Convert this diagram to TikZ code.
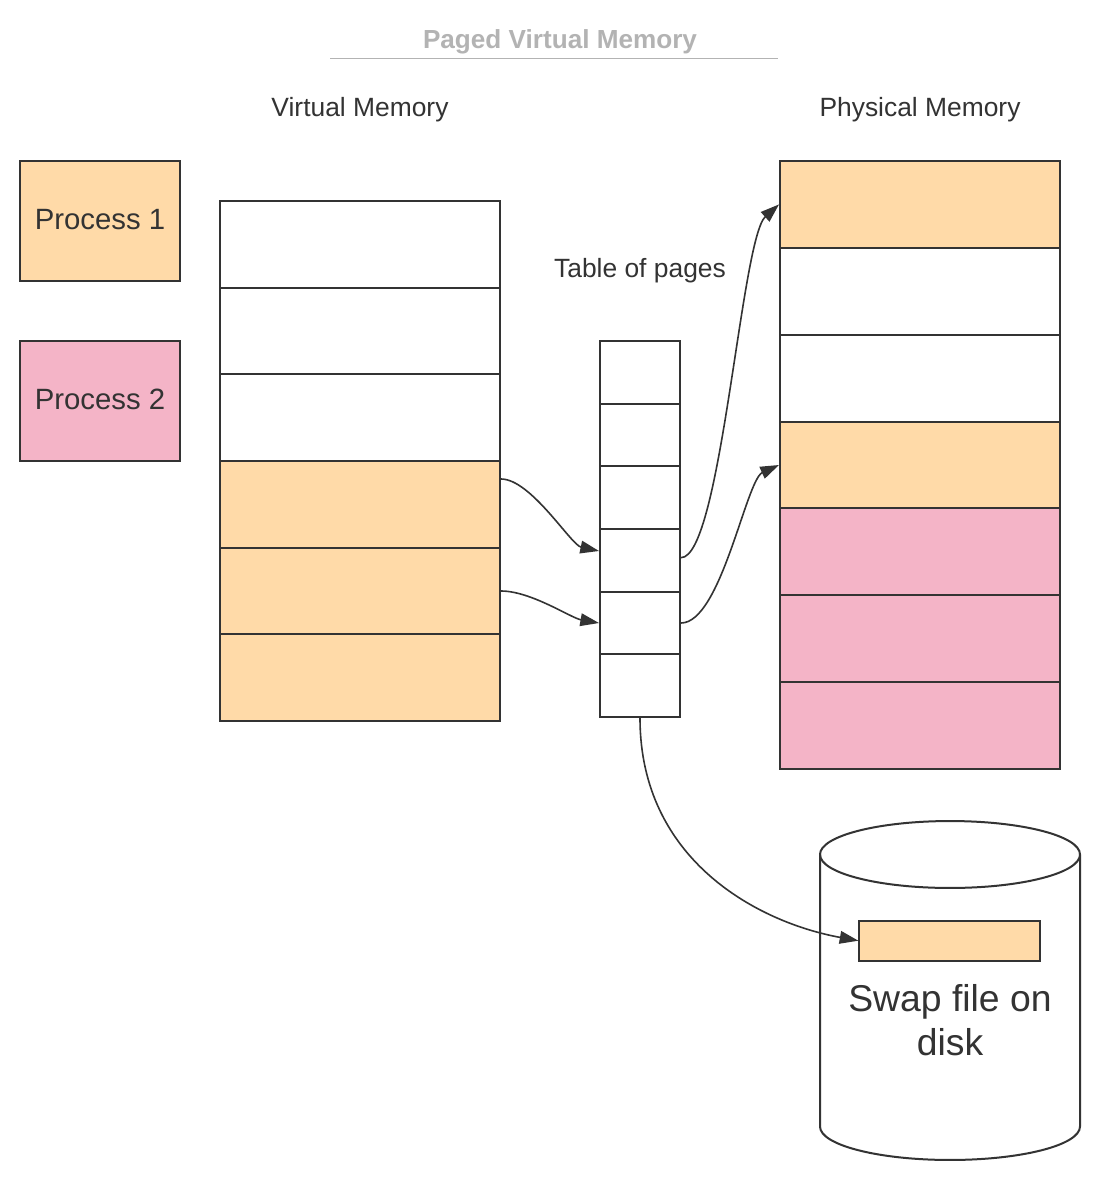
\documentclass[tikz,border=0pt]{standalone}
\usepackage{fontspec}
\setmainfont{Liberation Sans}
\usetikzlibrary{arrows.meta}
\definecolor{peach}{HTML}{FFDAA8}
\definecolor{pinkc}{HTML}{F4B4C7}
\definecolor{ink}{HTML}{333333}
\definecolor{titlegray}{HTML}{B3B3B3}
\begin{document}
\begin{tikzpicture}[x=0.75pt,y=-0.75pt,
  cell/.style={draw=ink,line width=1.5pt,inner sep=0pt,fill=white},
  vmcell/.style={cell,minimum width=210pt,minimum height=65pt},
  ptcell/.style={cell,minimum width=60pt,minimum height=47pt},
  pmcell/.style={cell,minimum width=210pt,minimum height=65.14pt},
  procbox/.style={cell,minimum width=120pt,minimum height=90pt,text=ink,font=\fontsize{22pt}{26pt}\selectfont},
  label/.style={anchor=base,text=ink,font=\fontsize{19.8pt}{23pt}\selectfont},
  conn/.style={draw=ink,line width=1.2pt,-{Triangle[length=14pt,width=9.5pt]}}]
\useasboundingbox[fill=white] (0,0) rectangle (1100,1181);

% title
\node[anchor=base,text=titlegray,font=\bfseries\fontsize{19.6pt}{23pt}\selectfont] (title) at (560,48.5) {Paged Virtual Memory};
\coordinate (tl) at (330,58.5);
\coordinate (tr) at (778,58.5);
\draw[titlegray,line width=1.1pt] (tl) -- (tr);

% labels
\node[label] (vmlabel) at (360,116.5) {Virtual Memory};
\node[label] (pmlabel) at (920,116.5) {Physical Memory};
\node[label] (ptlabel) at (640,277) {Table of pages};

% processes
\node[procbox,fill=peach] (p1) at (100,221) {\raisebox{2.5pt}{Process 1}};
\node[procbox,fill=pinkc] (p2) at (100,401) {\raisebox{2.5pt}{Process 2}};

% virtual memory
\node[vmcell] (vm1) at (360,244.33) {};
\node[vmcell] (vm2) at (360,331) {};
\node[vmcell] (vm3) at (360,417.67) {};
\node[vmcell,fill=peach] (vm4) at (360,504.33) {};
\node[vmcell,fill=peach] (vm5) at (360,591) {};
\node[vmcell,fill=peach] (vm6) at (360,677.67) {};

% page table
\node[ptcell] (pt1) at (640,372.33) {};
\node[ptcell] (pt2) at (640,435) {};
\node[ptcell] (pt3) at (640,497.67) {};
\node[ptcell] (pt4) at (640,560.33) {};
\node[ptcell] (pt5) at (640,623) {};
\node[ptcell] (pt6) at (640,685.67) {};

% physical memory
\node[pmcell,fill=peach] (pm1) at (920,204.43) {};
\node[pmcell] (pm2) at (920,291.29) {};
\node[pmcell] (pm3) at (920,378.14) {};
\node[pmcell,fill=peach] (pm4) at (920,465) {};
\node[pmcell,fill=pinkc] (pm5) at (920,551.86) {};
\node[pmcell,fill=pinkc] (pm6) at (920,638.71) {};
\node[pmcell,fill=pinkc] (pm7) at (920,725.57) {};

% disk cylinder
\draw[draw=ink,line width=1.5pt,fill=white] (820,854.5) -- (820,1126.5)
  arc[start angle=180,end angle=360,x radius=97.5pt,y radius=25.1pt]
  -- (1080,854.5)
  arc[start angle=0,end angle=180,x radius=97.5pt,y radius=25.1pt] -- cycle;
\draw[draw=ink,line width=1.5pt] (820,854.5)
  arc[start angle=180,end angle=360,x radius=97.5pt,y radius=25.1pt];
\node[cell,fill=peach,minimum width=135.5pt,minimum height=30pt] (swap) at (949.7,940.7) {};
\node[align=center,text=ink,font=\fontsize{28pt}{33.25pt}\selectfont] (swaptext) at (950,1020) {Swap file on\\disk};

% connectors
\draw[conn] ([yshift=19pt]vm4.east) .. controls +(30,0) and +(-28,-6) .. ([yshift=7pt]pt4.west);
\draw[conn] (vm5.east) .. controls +(30,0) and +(-28,-5) .. (pt5.west);
\draw[conn] ([yshift=2pt]pt4.east) .. controls +(40,0) and +(-38,34) .. (pm1.west);
\draw[conn] (pt5.east) .. controls +(40,0) and +(-33,15) .. (pm4.west);
\draw[conn] (pt6.south) .. controls +(0,143) and +(-99,-18) .. (swap.west);
\end{tikzpicture}
\end{document}
